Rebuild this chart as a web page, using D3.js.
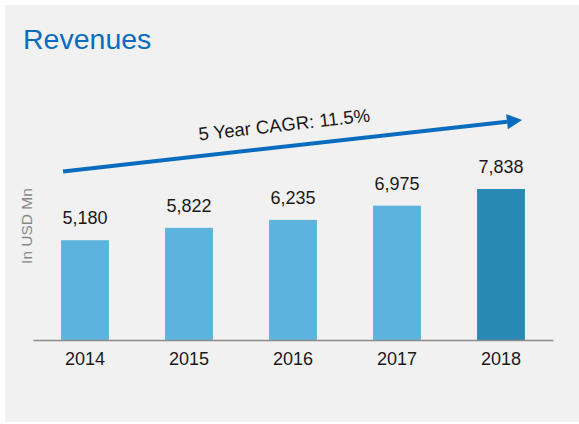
<html>
<head>
<meta charset='UTF-8'>
<script src='https://d3js.org/d3.v7.min.js'></script>
<style>
  body { margin: 0; background: #ffffff; }
  text { font-family: 'Liberation Sans', Arial, sans-serif; }
</style>
</head>
<body>
<svg id='chart' width='579' height='424'></svg>
<script type='text/javascript'>
    // chart data
    var years = ['2014', '2015', '2016', '2017', '2018'];
    var revenues = [5180, 5822, 6235, 6975, 7838];
    var barColors = ['#5cb4de', '#5cb4de', '#5cb4de', '#5cb4de', '#2989b5'];
    var cagrLabel = '5 Year CAGR: 11.5%';

    var width = 579,
        height = 424;

    var svg = d3.select('#chart');

    // gray panel
    svg.append('rect')
       .attr('x', 5)
       .attr('y', 5)
       .attr('width', width - 5)
       .attr('height', height - 7)
       .attr('fill', '#f1f1f1');

    svg.append('text')
       .attr('x', 23)
       .attr('y', 49)
       .attr('fill', '#0a6cbf')
       .style('font-size', '28.5px')
       .text('Revenues');

    var x = d3.scaleBand()
              .domain(years)
              .range([33, 553])
              .paddingInner(0.54)
              .paddingOuter(0.27);

    var y = d3.scaleLinear()
              .domain([0, 7838])
              .range([340, 189]);

    var data = years.map(function(d, i) {
        return { year: d, value: revenues[i], color: barColors[i] };
    });

    svg.selectAll('.bar')
       .data(data)
       .enter()
       .append('rect')
         .attr('class', 'bar')
         .attr('x', function(d) { return x(d.year); })
         .attr('y', function(d) { return y(d.value); })
         .attr('width', x.bandwidth())
         .attr('height', function(d) { return y(0) - y(d.value); })
         .attr('fill', function(d) { return d.color; });

    // value labels
    svg.selectAll('.val')
       .data(data)
       .enter()
       .append('text')
         .attr('class', 'val')
         .attr('x', function(d) { return x(d.year) + x.bandwidth() / 2; })
         .attr('y', function(d) { return y(d.value) - 16; })
         .attr('text-anchor', 'middle')
         .attr('fill', '#1a1a1a')
         .style('font-size', '18px')
         .text(function(d) { return d3.format(',')(d.value); });

    // x axis
    var xAxis = svg.append('g')
       .attr('transform', 'translate(0,' + y(0) + ')')
       .call(d3.axisBottom(x).tickSize(0).tickPadding(12));
    xAxis.select('.domain')
         .attr('stroke', '#8c8c8c')
         .attr('stroke-width', 1.5);
    xAxis.selectAll('text')
         .attr('fill', '#1a1a1a')
         .style('font-size', '18px')
         .style('font-family', "'Liberation Sans', Arial, sans-serif");

    // y label
    svg.append('text')
       .attr('transform', 'translate(32,226) rotate(-90)')
       .attr('text-anchor', 'middle')
       .attr('fill', '#888888')
       .style('font-size', '15.5px')
       .text('In USD Mn');

    // CAGR arrow
    var defs = svg.append('defs');
    defs.append('marker')
        .attr('id', 'head')
        .attr('viewBox', '0 0 10 10')
        .attr('refX', 0)
        .attr('refY', 5)
        .attr('markerWidth', 4)
        .attr('markerHeight', 3.8)
        .attr('markerUnits', 'strokeWidth')
        .attr('orient', 'auto')
        .append('path')
          .attr('d', 'M0,0 L10,5 L0,10 Z')
          .attr('fill', '#0a6cbf');

    var x0 = x('2014') + 2, y0 = 171.5,
        x1 = 507, y1 = 121.7;
    svg.append('line')
       .attr('x1', x0)
       .attr('y1', y0)
       .attr('x2', x1)
       .attr('y2', y1)
       .attr('stroke', '#0a6cbf')
       .attr('stroke-width', 4)
       .attr('marker-end', 'url(#head)');

    var angle = Math.atan2(y1 - y0, x1 - x0) * 180 / Math.PI;
    svg.append('text')
       .attr('transform', 'translate(285,131) rotate(' + angle + ')')
       .attr('text-anchor', 'middle')
       .attr('fill', '#1a1a1a')
       .style('font-size', '18.5px')
       .text(cagrLabel);
</script>
</body>
</html>
